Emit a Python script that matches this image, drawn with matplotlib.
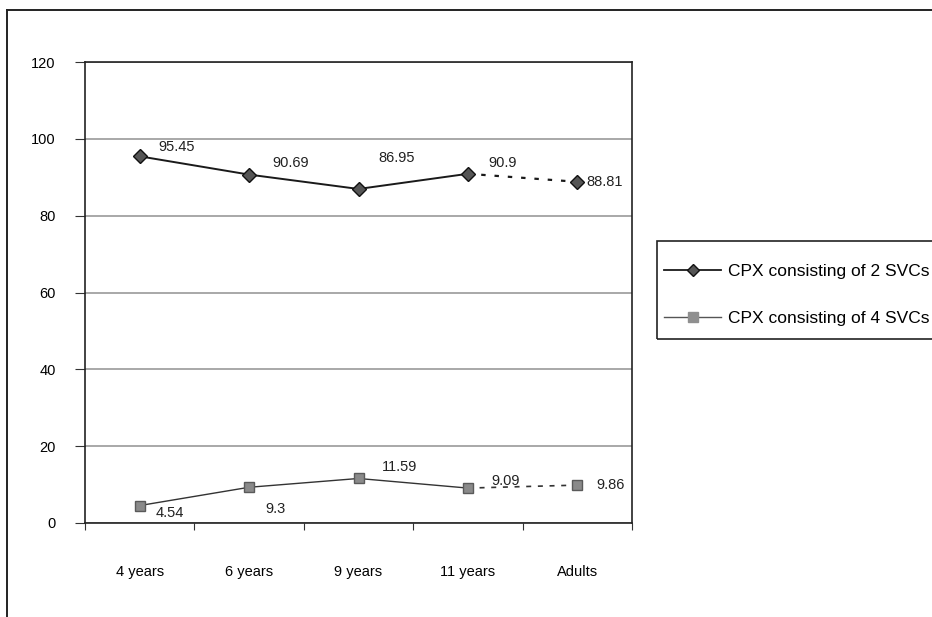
import numpy as np
import matplotlib.pyplot as plt
from matplotlib.lines import Line2D
from matplotlib.patches import Rectangle

categories = ["4 years", "6 years", "9 years", "11 years", "Adults"]
svc2 = [95.45, 90.69, 86.95, 90.9, 88.81]
svc4 = [4.54, 9.3, 11.59, 9.09, 9.86]
svc2_labels = ["95.45", "90.69", "86.95", "90.9", "88.81"]
svc4_labels = ["4.54", "9.3", "11.59", "9.09", "9.86"]
legend_names = ["CPX consisting of 2 SVCs", "CPX consisting of 4 SVCs"]

W, H = 932, 617
plt.rcParams["font.family"] = ["Liberation Sans", "DejaVu Sans"]
fig = plt.figure(figsize=(W / 100, H / 100), dpi=100)

# plot area in pixels: x 85..632, y 62..523
ax = fig.add_axes([85 / W, 1 - 523 / H, (632 - 85) / W, (523 - 62) / H])
x = np.arange(len(categories))

ax.set_xlim(-0.5, len(categories) - 0.5)
ax.set_ylim(0, 120)
ax.set_yticks(range(0, 121, 20))
ax.set_yticklabels([str(v) for v in range(0, 121, 20)], fontsize=10.5)
ax.yaxis.grid(True, color="#9a9a9a", lw=1.2)
ax.set_axisbelow(True)

ax.set_xticks(np.arange(-0.5, len(categories), 1.0))
ax.set_xticklabels([])
ax.set_xticks(x, minor=True)
ax.set_xticklabels(categories, minor=True, fontsize=10.5)
ax.tick_params(axis="x", which="minor", length=0, pad=30)
ax.tick_params(axis="x", which="major", length=5, direction="out", color="#333333")
ax.tick_params(axis="y", length=7, direction="out", color="#333333", pad=14)

for s in ["left", "bottom", "top", "right"]:
    ax.spines[s].set_color("#222222")
    ax.spines[s].set_linewidth(1.2)

# series 1: solid, last segment dotted
ax.plot(x[:4], svc2[:4], color="#1a1a1a", lw=1.4, zorder=3)
ax.plot(x[3:], svc2[3:], color="#1a1a1a", lw=1.6, ls=(0, (2, 4)), zorder=3)
ax.plot(x, svc2, ls="none", marker="D", ms=7, mfc="#555555", mec="#111111", zorder=4)

# series 2: solid, last segment dashed
ax.plot(x[:4], svc4[:4], color="#333333", lw=1.0, zorder=3)
ax.plot(x[3:], svc4[3:], color="#333333", lw=1.2, ls=(0, (3, 4)), zorder=3)
ax.plot(x, svc4, ls="none", marker="s", ms=7, mfc="#8a8a8a", mec="#5a5a5a", zorder=4)

# label offsets in points (right, up) from each marker
offs2 = [(13.5, 7), (16.5, 8), (14.5, 22), (14.5, 8), (6.5, 0)]
offs4 = [(11.5, -5), (11.5, -16), (17, 8), (17, 5), (14, 0)]
for vals, labels, offs in [(svc2, svc2_labels, offs2), (svc4, svc4_labels, offs4)]:
    for i, (v, t) in enumerate(zip(vals, labels)):
        ax.annotate(t, (x[i], v), xytext=offs[i], textcoords="offset points",
                    ha="left", va="center", fontsize=10.5, color="#222222")

# legend (box drawn by hand so it runs off the right edge like the scan)
handles = [
    Line2D([], [], color="#1a1a1a", lw=1.3, marker="D", ms=6.5, mfc="#555555", mec="#111111"),
    Line2D([], [], color="#555555", lw=1.0, marker="s", ms=6.5, mfc="#8f8f8f", mec="#8f8f8f"),
]
leg = fig.legend(handles, legend_names, loc="center left",
                 bbox_to_anchor=(664 / W, 1 - 295 / H), fontsize=12.5,
                 frameon=False, handlelength=3.3, labelspacing=1.8,
                 borderpad=0, borderaxespad=0, handletextpad=0.4)
fig.add_artist(Rectangle((657 / W, 1 - 339 / H), (945 - 657) / W, (339 - 241) / H,
                         transform=fig.transFigure, fill=False,
                         edgecolor="#222222", lw=1.2))

# outer chart border: top and left edges only
fig.add_artist(Line2D([7 / W, 1.0], [1 - 10 / H, 1 - 10 / H], transform=fig.transFigure,
                      color="#222222", lw=1.4))
fig.add_artist(Line2D([7 / W, 7 / W], [0.0, 1 - 10 / H], transform=fig.transFigure,
                      color="#222222", lw=1.4))

fig.savefig("out.png", dpi=100)
